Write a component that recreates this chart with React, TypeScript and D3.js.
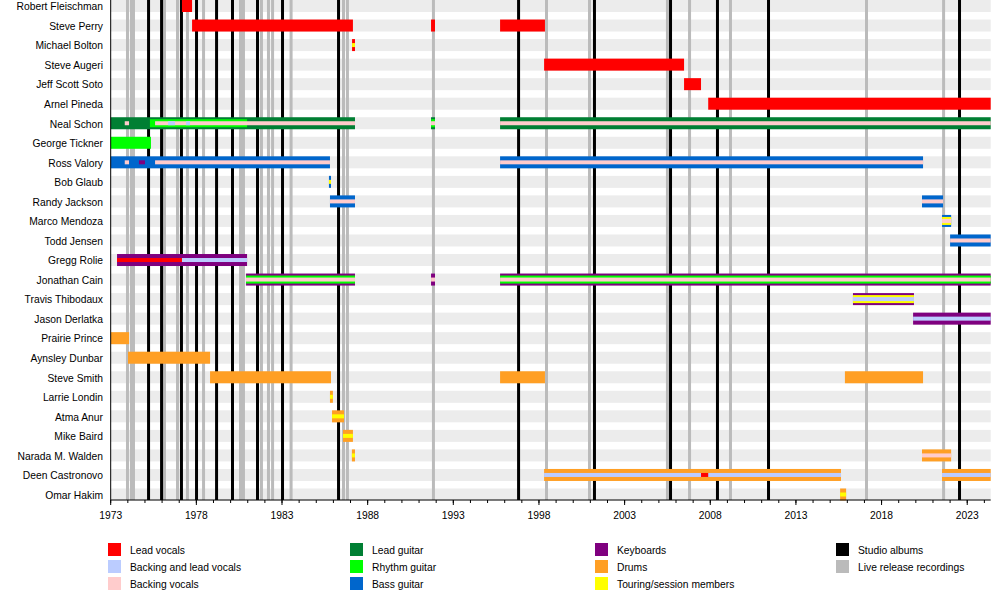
import React from "react";
import * as d3 from "d3";

// ---------- data ----------
const MEMBERS = [
  "Robert Fleischman", "Steve Perry", "Michael Bolton", "Steve Augeri", "Jeff Scott Soto",
  "Arnel Pineda", "Neal Schon", "George Tickner", "Ross Valory", "Bob Glaub",
  "Randy Jackson", "Marco Mendoza", "Todd Jensen", "Gregg Rolie", "Jonathan Cain",
  "Travis Thibodaux", "Jason Derlatka", "Prairie Prince", "Aynsley Dunbar", "Steve Smith",
  "Larrie Londin", "Atma Anur", "Mike Baird", "Narada M. Walden", "Deen Castronovo", "Omar Hakim",
];

const START = 1973;
const END = 2024.37;

const ROLES = [
  "Lead vocals", "Backing and lead vocals", "Backing vocals",
  "Lead guitar", "Rhythm guitar", "Bass guitar",
  "Keyboards", "Drums", "Touring/session members",
];
const ROLE_COLORS = [
  "#ff0000", "#bbccff", "#ffcccc",
  "#007f33", "#00ff00", "#0066cc",
  "#7f007f", "#ff9f24", "#ffff00",
];
const LINE_LEGEND = ["Studio albums", "Live release recordings"];

// [member, role, from, till, layer(0 main, 1 second, 2 third)]
const PERIODS: [string, string, number, number, number][] = [
  ["Robert Fleischman", "Lead vocals", 1977.16, 1977.75, 0],
  ["Steve Perry", "Lead vocals", 1977.75, 1987.14, 0],
  ["Steve Perry", "Lead vocals", 1991.70, 1991.93, 0],
  ["Steve Perry", "Lead vocals", 1995.73, 1998.35, 0],
  ["Michael Bolton", "Lead vocals", 1987.09, 1987.26, 0],
  ["Michael Bolton", "Touring/session members", 1987.09, 1987.26, 2],
  ["Steve Augeri", "Lead vocals", 1998.30, 2006.47, 0],
  ["Jeff Scott Soto", "Lead vocals", 2006.47, 2007.46, 0],
  ["Arnel Pineda", "Lead vocals", 2007.88, END, 0],

  ["Neal Schon", "Lead guitar", 1973.0, 1987.26, 0],
  ["Neal Schon", "Lead guitar", 1991.70, 1991.93, 0],
  ["Neal Schon", "Lead guitar", 1995.73, END, 0],
  ["Neal Schon", "Rhythm guitar", 1975.29, 1980.96, 1],
  ["Neal Schon", "Rhythm guitar", 1991.70, 1991.93, 1],
  ["Neal Schon", "Backing vocals", 1973.82, 1974.07, 2],
  ["Neal Schon", "Backing vocals", 1975.59, 1987.26, 2],
  ["Neal Schon", "Backing vocals", 1991.70, 1991.93, 2],
  ["Neal Schon", "Backing vocals", 1995.73, END, 2],
  ["Neal Schon", "Backing and lead vocals", 1976.35, 1976.75, 2],
  ["Neal Schon", "Backing and lead vocals", 1977.40, 1977.63, 2],

  ["George Tickner", "Rhythm guitar", 1973.0, 1975.35, 0],

  ["Ross Valory", "Bass guitar", 1973.0, 1985.80, 0],
  ["Ross Valory", "Bass guitar", 1995.73, 2020.42, 0],
  ["Ross Valory", "Backing vocals", 1973.82, 1974.07, 2],
  ["Ross Valory", "Keyboards", 1974.65, 1975.0, 2],
  ["Ross Valory", "Backing vocals", 1975.59, 1985.80, 2],
  ["Ross Valory", "Backing vocals", 1995.73, 2020.42, 2],

  ["Bob Glaub", "Bass guitar", 1985.74, 1985.86, 0],
  ["Bob Glaub", "Touring/session members", 1985.74, 1985.86, 2],

  ["Randy Jackson", "Bass guitar", 1985.80, 1987.26, 0],
  ["Randy Jackson", "Backing vocals", 1985.80, 1987.26, 2],
  ["Randy Jackson", "Bass guitar", 2020.36, 2021.59, 0],
  ["Randy Jackson", "Backing vocals", 2020.36, 2021.59, 2],

  ["Marco Mendoza", "Bass guitar", 2021.53, 2022.06, 0],
  ["Marco Mendoza", "Touring/session members", 2021.53, 2022.06, 1],
  ["Marco Mendoza", "Backing vocals", 2021.53, 2022.06, 2],

  ["Todd Jensen", "Bass guitar", 2022.0, END, 0],
  ["Todd Jensen", "Backing vocals", 2022.0, END, 2],

  ["Gregg Rolie", "Keyboards", 1973.37, 1980.96, 0],
  ["Gregg Rolie", "Lead vocals", 1973.37, 1977.16, 2],
  ["Gregg Rolie", "Backing and lead vocals", 1977.16, 1980.96, 2],

  ["Jonathan Cain", "Keyboards", 1980.90, 1987.26, 0],
  ["Jonathan Cain", "Rhythm guitar", 1980.90, 1987.26, 1],
  ["Jonathan Cain", "Backing vocals", 1980.90, 1987.26, 2],
  ["Jonathan Cain", "Keyboards", 1991.70, 1991.93, 0],
  ["Jonathan Cain", "Backing vocals", 1991.70, 1991.93, 2],
  ["Jonathan Cain", "Keyboards", 1995.73, END, 0],
  ["Jonathan Cain", "Rhythm guitar", 1995.73, END, 1],
  ["Jonathan Cain", "Backing vocals", 1995.73, END, 2],

  ["Travis Thibodaux", "Keyboards", 2016.33, 2019.89, 0],
  ["Travis Thibodaux", "Touring/session members", 2016.33, 2019.89, 1],
  ["Travis Thibodaux", "Backing and lead vocals", 2016.33, 2019.89, 2],

  ["Jason Derlatka", "Keyboards", 2019.84, END, 0],
  ["Jason Derlatka", "Backing and lead vocals", 2019.84, END, 2],

  ["Prairie Prince", "Drums", 1973.0, 1974.07, 0],
  ["Aynsley Dunbar", "Drums", 1974.01, 1978.80, 0],
  ["Steve Smith", "Drums", 1978.80, 1985.86, 0],
  ["Steve Smith", "Drums", 1995.73, 1998.35, 0],
  ["Steve Smith", "Drums", 2015.86, 2020.42, 0],

  ["Larrie Londin", "Drums", 1985.80, 1985.97, 0],
  ["Larrie Londin", "Touring/session members", 1985.80, 1985.97, 2],
  ["Atma Anur", "Drums", 1985.92, 1986.62, 0],
  ["Atma Anur", "Touring/session members", 1985.92, 1986.62, 2],
  ["Mike Baird", "Drums", 1986.56, 1987.14, 0],
  ["Mike Baird", "Touring/session members", 1986.56, 1987.14, 2],
  ["Narada M. Walden", "Drums", 1987.08, 1987.26, 0],
  ["Narada M. Walden", "Touring/session members", 1987.08, 1987.26, 2],
  ["Narada M. Walden", "Drums", 2020.36, 2022.06, 0],
  ["Narada M. Walden", "Backing vocals", 2020.36, 2022.06, 2],

  ["Deen Castronovo", "Drums", 1998.30, 2015.63, 0],
  ["Deen Castronovo", "Backing and lead vocals", 1998.30, 2015.63, 2],
  ["Deen Castronovo", "Lead vocals", 2007.46, 2007.88, 2],
  ["Deen Castronovo", "Drums", 2021.53, END, 0],
  ["Deen Castronovo", "Backing and lead vocals", 2021.53, END, 2],

  ["Omar Hakim", "Drums", 2015.58, 2015.93, 0],
  ["Omar Hakim", "Touring/session members", 2015.58, 2015.93, 2],
];

const STUDIO_ALBUMS = [
  1975.21, 1975.97, 1977.13, 1978.01, 1979.18, 1980.11, 1981.57, 1983.03,
  1986.30, 1996.81, 2001.24, 2005.68, 2008.42, 2011.40, 2022.55,
];
const LIVE_RELEASES = [
  1973.98, 1974.21, 1974.33, 1976.14, 1976.90, 1977.48, 1978.42, 1980.58, 1980.75,
  1981.80, 1982.21, 1982.45, 1983.53, 1986.59, 1986.82, 1991.84, 1998.44, 2000.95,
  2005.50, 2006.79, 2009.18, 2017.12, 2021.62,
];

const MAJOR_TICKS = [1973, 1978, 1983, 1988, 1993, 1998, 2003, 2008, 2013, 2018, 2023];
const MINOR_TICKS = d3.range(1973, 2025);

// ---------- chart ----------
const FONT = "'Liberation Sans', Arial, Helvetica, sans-serif";
const FS = 10.3;
const LAYER_H = [12, 8, 4];

export default function App() {
  const W = 1000, H = 600;
  const x = d3.scaleLinear().domain([START, END]).range([110.7, 990.7]);
  const y = d3.scalePoint<string>().domain(MEMBERS).range([6, 494.5]);
  const color = d3.scaleOrdinal<string, string>().domain(ROLES).range(ROLE_COLORS);
  const axisY = 500;

  const sorted = [...PERIODS].sort((a, b) => a[4] - b[4]);

  const legendCols = [
    [ROLES[0], ROLES[1], ROLES[2]],
    [ROLES[3], ROLES[4], ROLES[5]],
    [ROLES[6], ROLES[7], ROLES[8]],
    LINE_LEGEND,
  ];
  const legendColor = (name: string) =>
    name === LINE_LEGEND[0] ? "#000000" : name === LINE_LEGEND[1] ? "#bbbbbb" : color(name);
  const legendX = [108, 350, 595, 836];

  return (
    <svg width={W} height={H} style={{ position: "absolute", left: 0, top: 0, background: "#fff" }}
      fontFamily={FONT}>
      {/* row backgrounds */}
      {MEMBERS.map((m) => (
        <rect key={"bg" + m} x={x(START)} width={x(END) - x(START)} y={(y(m) as number) - 6} height={12}
          fill="#ececec" />
      ))}
      {/* live release lines */}
      {LIVE_RELEASES.map((d, i) => (
        <line key={"lv" + i} x1={x(d)} x2={x(d)} y1={0} y2={axisY} stroke="#bbbbbb" strokeWidth={3} />
      ))}
      {/* studio album lines */}
      {STUDIO_ALBUMS.map((d, i) => (
        <line key={"st" + i} x1={x(d)} x2={x(d)} y1={0} y2={axisY} stroke="#000000" strokeWidth={3} />
      ))}
      {/* bars */}
      {sorted.map(([m, role, a, b, layer], i) => {
        const h = LAYER_H[layer];
        return (
          <rect key={"p" + i} x={x(a)} width={Math.max(0, x(b) - x(a))}
            y={(y(m) as number) - h / 2} height={h} fill={color(role)} />
        );
      })}
      {/* names */}
      {MEMBERS.map((m) => (
        <text key={"n" + m} x={103} y={(y(m) as number) + 4.3} textAnchor="end" fontSize={FS} fill="#000">
          {m}
        </text>
      ))}
      {/* axes */}
      <line x1={x(START)} x2={x(START)} y1={0} y2={axisY} stroke="#000" strokeWidth={1} />
      <line x1={x(START)} x2={x(END)} y1={axisY} y2={axisY} stroke="#000" strokeWidth={1} />
      {MINOR_TICKS.map((t) => (
        <line key={"mt" + t} x1={x(t)} x2={x(t)} y1={axisY} y2={axisY + 3} stroke="#000" strokeWidth={1} />
      ))}
      {MAJOR_TICKS.map((t) => (
        <g key={"MT" + t}>
          <line x1={x(t)} x2={x(t)} y1={axisY} y2={axisY + 5} stroke="#000" strokeWidth={1} />
          <text x={x(t)} y={axisY + 18.5} textAnchor="middle" fontSize={FS} fill="#000">{t}</text>
        </g>
      ))}
      {/* legend */}
      {legendCols.map((col, ci) =>
        col.map((name, ri) => (
          <g key={"lg" + name}>
            <rect x={legendX[ci]} y={543 + ri * 17} width={13} height={13} fill={legendColor(name)} />
            <text x={legendX[ci] + 22} y={553.5 + ri * 17} fontSize={FS} fill="#000">{name}</text>
          </g>
        ))
      )}
    </svg>
  );
}
